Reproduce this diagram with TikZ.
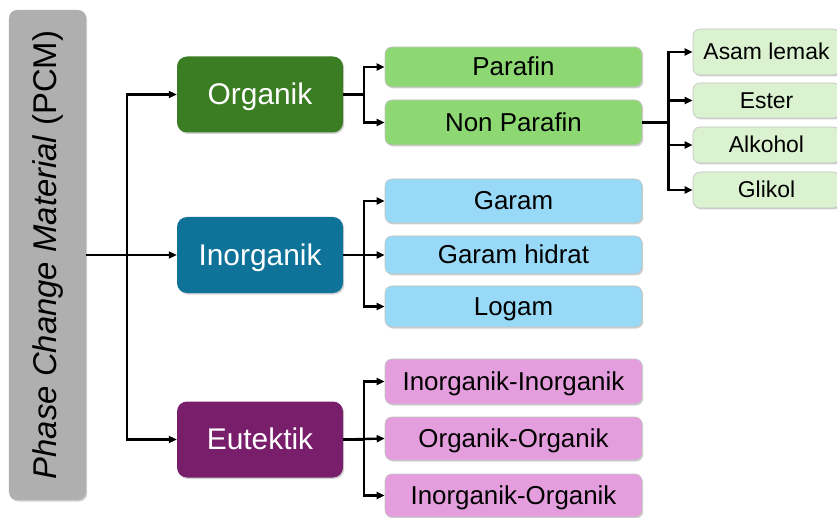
\documentclass[tikz,border=0pt]{standalone}
\usepackage{fontspec}
\setmainfont{Liberation Sans}
\usetikzlibrary{arrows.meta,shadows}
\definecolor{grayc}{HTML}{AFAFAF}
\definecolor{orgc}{HTML}{3B7D23}
\definecolor{inorgc}{HTML}{0F7399}
\definecolor{eutc}{HTML}{791E6B}
\definecolor{parc}{HTML}{8ED873}
\definecolor{bluec}{HTML}{97D9F6}
\definecolor{pinkc}{HTML}{E49EDD}
\definecolor{palec}{HTML}{DAF2D0}
\definecolor{edgec}{HTML}{C4C4C4}
\begin{document}
\begin{tikzpicture}[x=1bp,y=-1bp,
  shad/.style={drop shadow={shadow xshift=1.2bp,shadow yshift=-1.5bp,opacity=0.3,fill=black!60}},
  catbox/.style={draw=none,rounded corners=10bp,minimum width=166bp,minimum height=76bp,
    text=white,font=\fontsize{30}{36}\selectfont,shad,inner sep=0pt,text height=21.6bp,text depth=1bp},
  childbox/.style={draw=edgec,line width=0.6bp,rounded corners=7bp,minimum width=257bp,
    font=\fontsize{26}{30}\selectfont,shad,inner sep=0pt,text height=18.7bp,text depth=0.8bp},
  subbox/.style={draw=edgec,line width=0.6bp,fill=palec,rounded corners=7bp,minimum width=147bp,
    font=\fontsize{23}{27}\selectfont,shad,inner sep=0pt,text height=16.6bp,text depth=0.7bp},
  arr/.style={line width=2.4bp,-{Triangle[length=8bp,width=7bp]}}
]
\useasboundingbox (0,0) rectangle (837,518);
\clip (0,0) rectangle (837,518);
% PCM box
\node[fill=grayc,rounded corners=8bp,minimum width=77bp,minimum height=490bp,inner sep=0pt,shad] (pcm) at (47.5,255) {};
\node[rotate=90,font=\fontsize{33}{38}\selectfont,inner sep=0pt] (pcmtext) at (pcm.center) {\textit{Phase Change Material} (PCM)};
% categories
\node[catbox,fill=orgc] (org) at (260,94.5) {Organik};
\node[catbox,fill=inorgc] (inorg) at (260,255) {Inorganik};
\node[catbox,fill=eutc] (eut) at (260,439.5) {Eutektik};
% organik children
\node[childbox,fill=parc,minimum height=40bp] (par) at (513.5,67) {Parafin};
\node[childbox,fill=parc,minimum height=45bp] (npar) at (513.5,122.5) {Non Parafin};
% inorganik children
\node[childbox,fill=bluec,minimum height=44bp] (garam) at (513.5,201) {Garam};
\node[childbox,fill=bluec,minimum height=38bp] (gh) at (513.5,255) {Garam hidrat};
\node[childbox,fill=bluec,minimum height=41bp] (logam) at (513.5,306.5) {Logam};
% eutektik children
\node[childbox,fill=pinkc,minimum height=45bp] (ii) at (513.5,381.5) {Inorganik-Inorganik};
\node[childbox,fill=pinkc,minimum height=43bp] (oo) at (513.5,438.5) {Organik-Organik};
\node[childbox,fill=pinkc,minimum height=43bp] (io) at (513.5,495.5) {Inorganik-Organik};
% non parafin subs
\node[subbox,minimum height=46bp] (asam) at (766.5,52) {Asam lemak};
\node[subbox,minimum height=35bp] (ester) at (766.5,100.5) {Ester};
\node[subbox,minimum height=36bp] (alk) at (766.5,145) {Alkohol};
\node[subbox,minimum height=36bp] (gli) at (766.5,190) {Glikol};
% connectors
\draw[arr] (pcm.east) -- (inorg.west);
\draw[arr] (pcm.east) -- ++(41,0) |- (org.west);
\draw[arr] (pcm.east) -- ++(41,0) |- (eut.west);
\draw[arr] (org.east) -- ++(21,0) |- (par.west);
\draw[arr] (org.east) -- ++(21,0) |- (npar.west);
\draw[arr] (inorg.east) -- ++(21,0) |- (garam.west);
\draw[arr] (inorg.east) -- (gh.west);
\draw[arr] (inorg.east) -- ++(21,0) |- (logam.west);
\draw[arr] (eut.east) -- ++(21,0) |- (ii.west);
\draw[arr] (eut.east) -- (oo.west);
\draw[arr] (eut.east) -- ++(21,0) |- (io.west);
\draw[arr] (npar.east) -- ++(26,0) |- (asam.west);
\draw[arr] (npar.east) -- ++(26,0) |- (ester.west);
\draw[arr] (npar.east) -- ++(26,0) |- (alk.west);
\draw[arr] (npar.east) -- ++(26,0) |- (gli.west);
\end{tikzpicture}
\end{document}
